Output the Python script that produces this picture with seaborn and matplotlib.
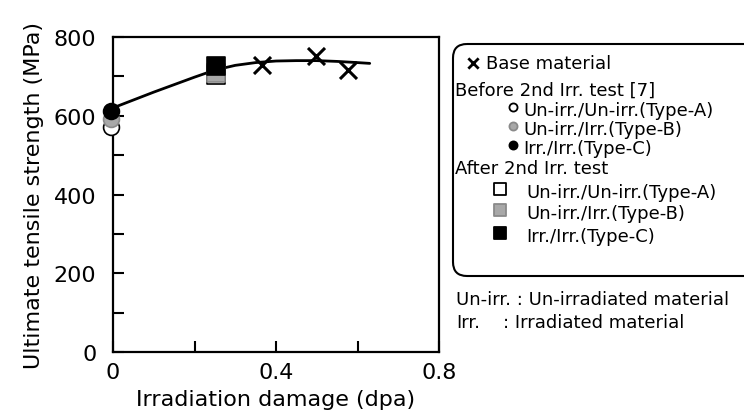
import matplotlib
matplotlib.use('Agg')
import matplotlib.pyplot as plt
from matplotlib.patches import FancyBboxPatch
from matplotlib.ticker import MultipleLocator, FixedLocator
import seaborn as sns
import pandas as pd

# data
base_dpa = [0.366, 0.499, 0.577]
base_uts = [729, 751, 715]

before_dpa = [-0.006, -0.006, -0.006]       # Type-A, Type-B, Type-C
before_uts = [571, 591, 612]

after_dpa = [0.253, 0.253, 0.253]           # Type-A, Type-B, Type-C
after_uts = [703, 709, 727]

curve_dpa = [0.0, 0.05, 0.1, 0.15, 0.2, 0.25, 0.3, 0.35, 0.4, 0.45, 0.5, 0.55, 0.6, 0.63]
curve_uts = [620, 640, 660, 679, 698, 716, 728, 735, 739, 740, 740, 738, 735, 733]

type_face = ['white', '#a8a8a8', 'black']
type_edge = ['black', '#8a8a8a', 'black']

sns.set_style('ticks')
plt.rcParams['font.family'] = ['DejaVu Sans']
plt.rcParams.update({'text.color': 'black', 'axes.labelcolor': 'black',
                     'xtick.color': 'black', 'ytick.color': 'black'})

fig = plt.figure(figsize=(7.44, 4.14), dpi=100)
ax = fig.add_axes([113/744, 1 - 353/414, (439-113)/744, (353-38)/414])

sns.lineplot(x=curve_dpa, y=curve_uts, ax=ax, color='black', lw=2, sort=False, zorder=2)

for i in range(3):
    df = pd.DataFrame({'dpa': [before_dpa[i]], 'uts': [before_uts[i]]})
    sns.scatterplot(data=df, x='dpa', y='uts', ax=ax, marker='o', s=130, clip_on=False,
                    color=type_face[i], edgecolor=type_edge[i], linewidth=1.2, zorder=3 + i)
for i in range(3):
    df = pd.DataFrame({'dpa': [after_dpa[i]], 'uts': [after_uts[i]]})
    sns.scatterplot(data=df, x='dpa', y='uts', ax=ax, marker='s', s=150,
                    color=type_face[i], edgecolor=type_edge[i], linewidth=1.2, zorder=3 + i)

sns.scatterplot(x=base_dpa, y=base_uts, ax=ax, marker='x', s=150, color='black',
                linewidth=2.2, zorder=6)

ax.set_xlim(0, 0.8)
ax.set_ylim(0, 800)
ax.xaxis.set_major_locator(FixedLocator([0, 0.4, 0.8]))
ax.xaxis.set_minor_locator(MultipleLocator(0.2))
ax.yaxis.set_major_locator(MultipleLocator(200))
ax.yaxis.set_minor_locator(MultipleLocator(100))
ax.set_xticklabels(['0', '0.4', '0.8'])
ax.tick_params(which='both', direction='in', length=8, width=1.5, color='black',
               labelsize=16, labelcolor='black', top=False, right=False)
ax.tick_params(axis='y', pad=12)
ax.tick_params(axis='x', pad=7)
for sp in ax.spines.values():
    sp.set_linewidth(1.6)
    sp.set_color('black')
    sp.set_visible(True)

ax.set_xlabel('Irradiation damage (dpa)', fontsize=16, labelpad=5)
ax.set_ylabel('Ultimate tensile strength (MPa)', fontsize=16, labelpad=7)

# legend drawn in pixel coordinates
lax = fig.add_axes([0, 0, 1, 1])
lax.set_xlim(0, 744)
lax.set_ylim(414, 0)
lax.axis('off')
lax.patch.set_alpha(0)

box = FancyBboxPatch((458, 50), 320, 222, boxstyle='round,pad=5,rounding_size=14',
                     fc='none', ec='black', lw=1.5)
lax.add_patch(box)

fs = 13
lax.scatter([473], [64], marker='x', s=55, color='black', linewidths=2)
lax.text(486, 64, 'Base material', fontsize=fs, va='center')
lax.text(455, 91, 'Before 2nd Irr. test [7]', fontsize=fs, va='center')
labels = ['Un-irr./Un-irr.(Type-A)', 'Un-irr./Irr.(Type-B)', 'Irr./Irr.(Type-C)']
for i, y in enumerate([111, 130, 149]):
    lax.scatter([513], [y - 3], marker='o', s=34, facecolor=type_face[i],
                edgecolor=type_edge[i], linewidths=1.3)
    lax.text(523, y, labels[i], fontsize=fs, va='center')
lax.text(455, 169, 'After 2nd Irr. test', fontsize=fs, va='center')
for i, y in enumerate([193, 214, 237]):
    lax.scatter([500], [y - 3], marker='s', s=75, facecolor=type_face[i],
                edgecolor=type_edge[i], linewidths=1.3)
    lax.text(526, y, labels[i], fontsize=fs, va='center')

lax.text(456, 300, 'Un-irr. : Un-irradiated material', fontsize=fs, va='center')
lax.text(456, 323, 'Irr.', fontsize=fs, va='center')
lax.text(503, 323, ': Irradiated material', fontsize=fs, va='center')

fig.savefig('out.png', dpi=100)
